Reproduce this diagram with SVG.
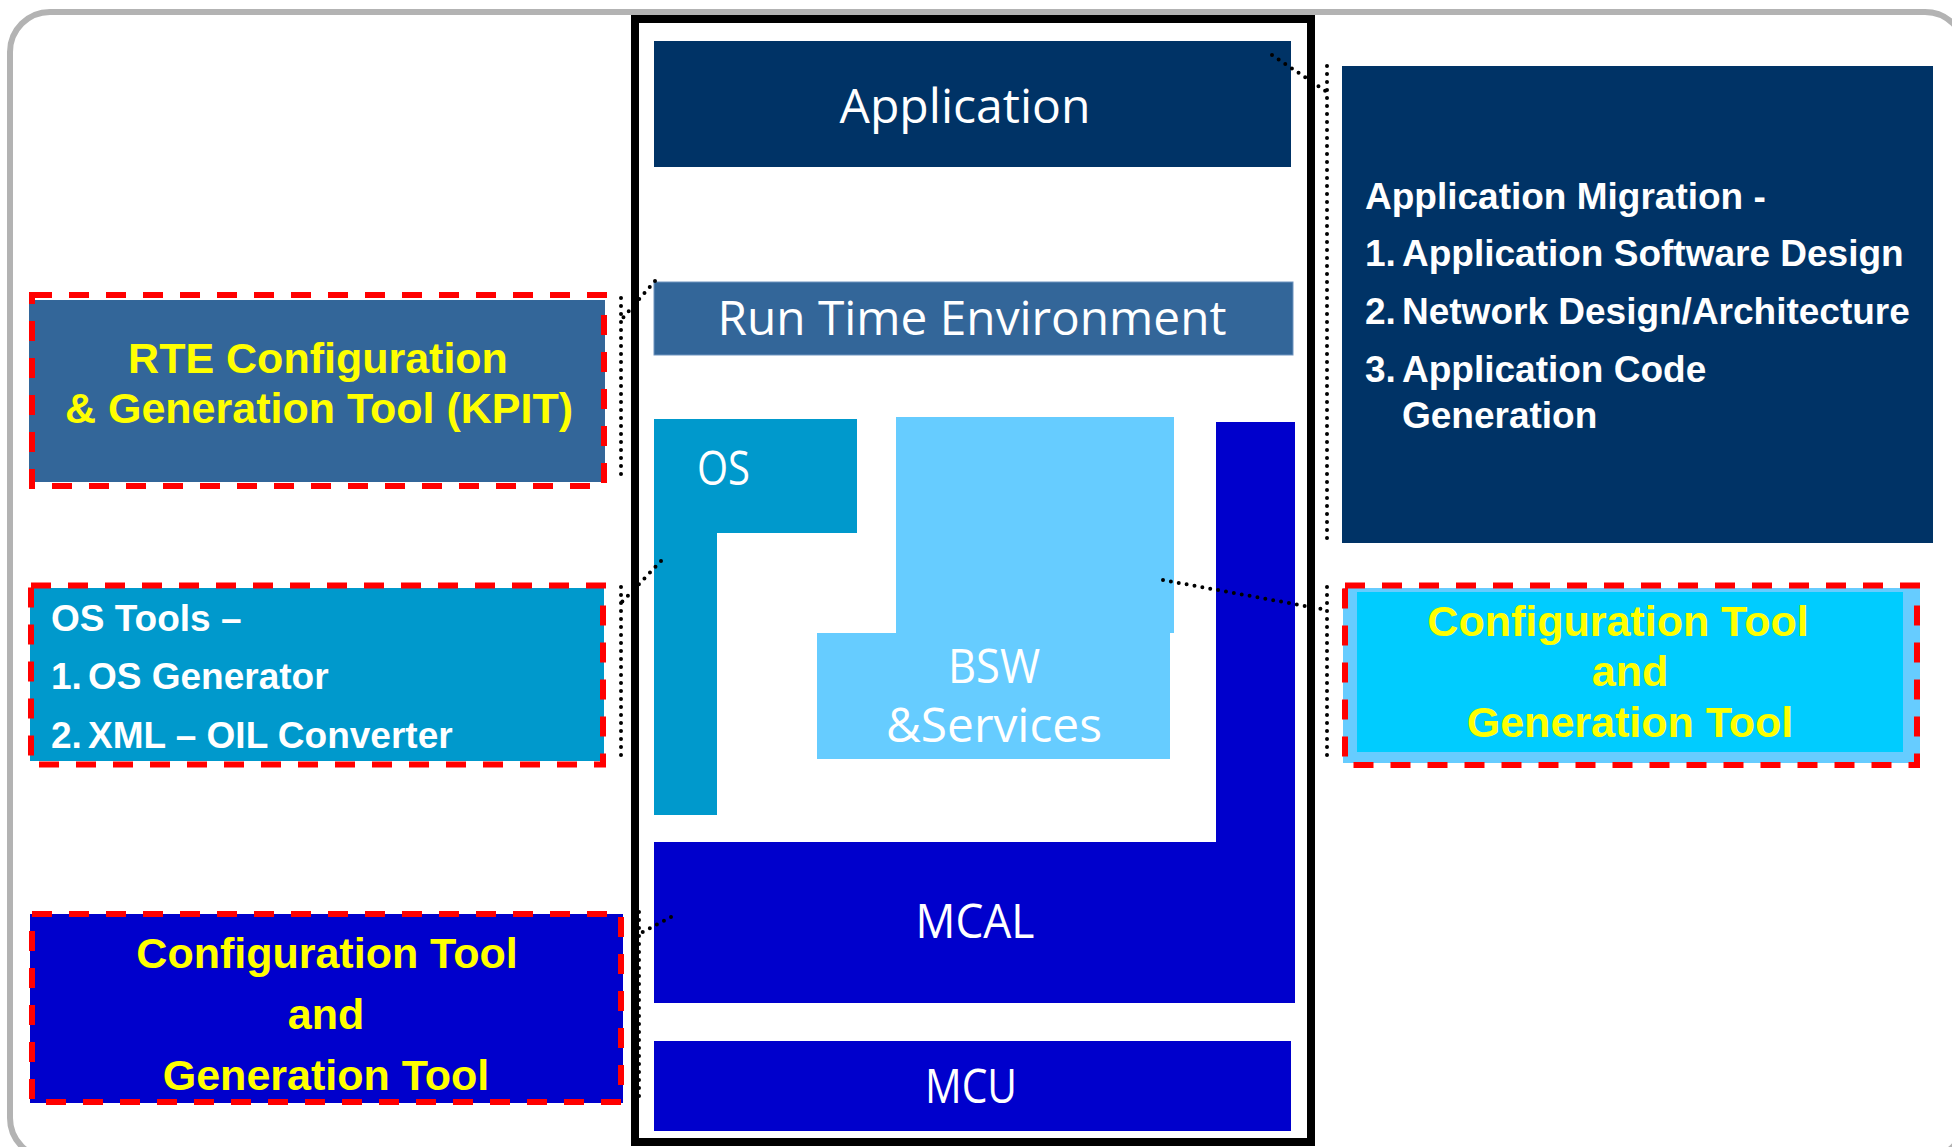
<svg xmlns="http://www.w3.org/2000/svg" width="1952" height="1147" viewBox="0 0 1952 1147">
<style>
.stack{font-family:"Open Sans","Noto Sans","Liberation Sans",sans-serif;fill:#ffffff;font-size:47px}
.bold{font-family:"Liberation Sans",Arial,sans-serif;font-weight:bold}
.yel{fill:#ffff00;font-size:43px}
.wht{fill:#ffffff;font-size:37px}
.dash{fill:none;stroke:#ff0000;stroke-width:6;stroke-dasharray:20 17}
.dot{fill:none;stroke:#000000;stroke-width:4;stroke-linecap:round;stroke-dasharray:0 8}
</style>
<rect x="0" y="0" width="1952" height="1147" fill="#ffffff"/>
<rect id="outer" x="10" y="12" width="1955" height="1146" rx="40" ry="40" fill="none" stroke="#b3b3b3" stroke-width="6"/>
<rect id="frame" x="635" y="19" width="676" height="1123" fill="none" stroke="#000000" stroke-width="8"/>

<g id="application">
<rect x="654" y="41" width="637" height="126" fill="#003366"/>
<text class="stack" x="965" y="123" text-anchor="middle" font-size="49" textLength="251" lengthAdjust="spacingAndGlyphs">Application</text>
</g>
<g id="rte">
<rect x="654" y="282" width="639" height="73" fill="#336699" stroke="#6f94bf" stroke-width="1"/>
<text class="stack" x="972" y="335" text-anchor="middle" font-size="46" textLength="509" lengthAdjust="spacingAndGlyphs">Run Time Environment</text>
</g>
<g id="os">
<path d="M654 419 H857 V533 H717 V815 H654 Z" fill="#0099cc"/>
<text class="stack" x="697" y="485" font-size="47" textLength="53" lengthAdjust="spacingAndGlyphs">OS</text>
</g>
<g id="bsw">
<path d="M896 417 H1174 V633 H1170 V759 H817 V633 H896 Z" fill="#66ccff"/>
<text class="stack" x="994" y="683" text-anchor="middle" font-size="46" textLength="92" lengthAdjust="spacingAndGlyphs">BSW</text>
<text class="stack" x="994" y="742" text-anchor="middle" font-size="46" textLength="216" lengthAdjust="spacingAndGlyphs">&amp;Services</text>
</g>
<g id="mcal">
<path d="M1216 422 H1295 V1003 H654 V842 H1216 Z" fill="#0000cc"/>
<text class="stack" x="975" y="938" text-anchor="middle" font-size="46" textLength="119" lengthAdjust="spacingAndGlyphs">MCAL</text>
</g>
<g id="mcu">
<rect x="654" y="1041" width="637" height="90" fill="#0000cc"/>
<text class="stack" x="971" y="1103" text-anchor="middle" font-size="46" textLength="92" lengthAdjust="spacingAndGlyphs">MCU</text>
</g>

<g id="rte-tool">
<rect x="29" y="300" width="576" height="182" fill="#336699"/>
<rect class="dash" x="32" y="295" width="572" height="191"/>
<text class="bold yel" x="318" y="373" text-anchor="middle">RTE Configuration</text>
<text class="bold yel" x="319" y="423" text-anchor="middle">&amp; Generation Tool (KPIT)</text>
</g>
<g id="os-tools">
<rect x="30" y="588" width="574" height="173" fill="#0099cc"/>
<rect class="dash" x="31" y="585.5" width="572" height="179"/>
<text class="bold wht" x="51" y="631">OS Tools –</text>
<text class="bold wht" x="51" y="689">1.</text>
<text class="bold wht" x="88" y="689">OS Generator</text>
<text class="bold wht" x="51" y="748">2.</text>
<text class="bold wht" x="88" y="748">XML – OIL Converter</text>
</g>
<g id="mcal-tool">
<rect x="30" y="914" width="593" height="189" fill="#0000cc"/>
<rect class="dash" x="32" y="914" width="589" height="188"/>
<text class="bold yel" x="327" y="968" text-anchor="middle">Configuration Tool</text>
<text class="bold yel" x="326" y="1029" text-anchor="middle">and</text>
<text class="bold yel" x="326" y="1090" text-anchor="middle">Generation Tool</text>
</g>
<g id="app-migration">
<rect x="1342" y="66" width="591" height="477" fill="#003366"/>
<text class="bold wht" x="1365" y="209">Application Migration -</text>
<text class="bold wht" x="1365" y="266">1.</text>
<text class="bold wht" x="1402" y="266">Application Software Design</text>
<text class="bold wht" x="1365" y="324">2.</text>
<text class="bold wht" x="1402" y="324">Network Design/Architecture</text>
<text class="bold wht" x="1365" y="382">3.</text>
<text class="bold wht" x="1402" y="382">Application Code</text>
<text class="bold wht" x="1402" y="428">Generation</text>
</g>
<g id="bsw-tool">
<rect x="1343" y="588" width="577" height="175" fill="#66ccff"/>
<rect x="1357" y="592" width="546" height="160" fill="#00ccff"/>
<rect class="dash" x="1345" y="585.5" width="572" height="179.5"/>
<text class="bold yel" x="1618" y="636" text-anchor="middle">Configuration Tool</text>
<text class="bold yel" x="1630" y="686" text-anchor="middle">and</text>
<text class="bold yel" x="1630" y="737" text-anchor="middle">Generation Tool</text>
</g>

<g id="connectors">
<path class="dot" d="M1272 55 L1327 92"/>
<path class="dot" d="M1327 66 V540"/>
<path class="dot" d="M655 281 L621 320"/>
<path class="dot" d="M621 298 V477"/>
<path class="dot" d="M661 561 L621 603"/>
<path class="dot" d="M621 587 V756"/>
<path class="dot" d="M671 917 L639 934"/>
<path class="dot" d="M639 912 V1098"/>
<path class="dot" d="M1163 580 L1327 610"/>
<path class="dot" d="M1327 587 V756"/>
</g>
</svg>
